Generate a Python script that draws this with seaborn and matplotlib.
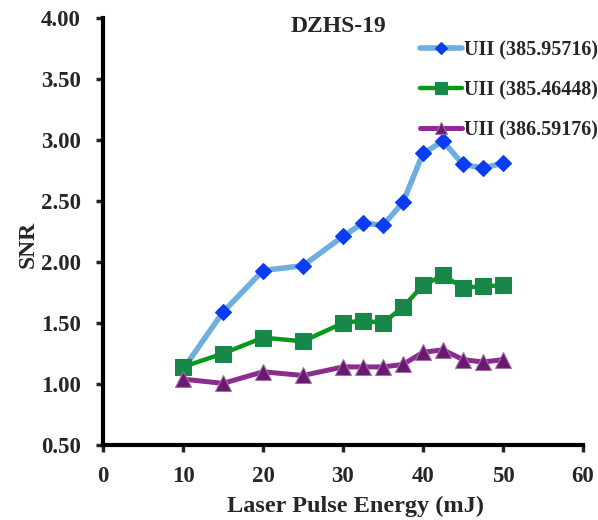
import matplotlib
matplotlib.use("Agg")
import matplotlib.pyplot as plt
import seaborn as sns
import pandas as pd

energy = [10, 15, 20, 25, 30, 32.5, 35, 37.5, 40, 42.5, 45, 47.5, 50]
snr_385_95716 = [1.12, 1.59, 1.93, 1.97, 2.21, 2.32, 2.30, 2.49, 2.89, 2.99, 2.80, 2.77, 2.81]
snr_385_46448 = [1.14, 1.25, 1.38, 1.35, 1.50, 1.52, 1.50, 1.63, 1.81, 1.89, 1.79, 1.80, 1.81]
snr_386_59176 = [1.04, 1.005, 1.10, 1.07, 1.14, 1.14, 1.14, 1.16, 1.26, 1.28, 1.20, 1.18, 1.20]
labels = ["UII (385.95716)", "UII (385.46448)", "UII (386.59176)"]
x_ticks = [0, 10, 20, 30, 40, 50, 60]
y_ticks = [0.5, 1.0, 1.5, 2.0, 2.5, 3.0, 3.5, 4.0]

sns.set_style("white")
plt.rcParams["font.family"] = ["Liberation Serif", "DejaVu Serif"]
plt.rcParams["font.weight"] = "bold"

W, H = 598, 520
fig = plt.figure(figsize=(W / 100, H / 100), dpi=100)
ax = fig.add_axes([103 / W, 1 - 445 / H, 480 / W, 427 / H])

styles = [
    dict(color="#70aee0", marker="D", mfc="#0a3cf0", mec="#0a3cf0", ms=8, lw=4.0),
    dict(color="#0a9a1a", marker="s", mfc="#17884a", mec="#17884a", ms=11, lw=3.2),
    dict(color="#8e2b91", marker="^", mfc="#6a1a6e", mec="#a070a8", ms=11, lw=3.6),
]
for vals, lab, st in zip([snr_385_95716, snr_385_46448, snr_386_59176], labels, styles):
    df = pd.DataFrame({"x": energy, "y": vals})
    sns.lineplot(data=df, x="x", y="y", ax=ax, color=st["color"], lw=st["lw"],
                 marker=st["marker"], markersize=st["ms"],
                 markerfacecolor=st["mfc"], markeredgecolor=st["mec"],
                 markeredgewidth=0.8, label=lab)

ax.set_xlim(0, 60)
ax.set_ylim(0.5, 4.0)
ax.set_xticks(x_ticks)
ax.set_yticks(y_ticks)
ax.set_xticklabels([str(v) for v in x_ticks], fontsize=16.5, fontweight="bold")
ax.set_yticklabels([f"{v:.2f}" for v in y_ticks], fontsize=16.5, fontweight="bold")
ax.tick_params(axis="y", direction="out", length=5, width=2.5, pad=11, left=True)
ax.tick_params(axis="x", direction="out", length=5, width=2.5, pad=10, bottom=True)
for s in ["top", "right"]:
    ax.spines[s].set_visible(False)
for s in ["left", "bottom"]:
    ax.spines[s].set_linewidth(3.0)
    ax.spines[s].set_color("black")

ax.set_xlabel("Laser Pulse Energy (mJ)", fontsize=17.5, fontweight="bold")
ax.set_ylabel("SNR", fontsize=17, fontweight="bold")
ax.xaxis.set_label_coords(0.527, -0.12)
ax.yaxis.set_label_coords(-0.135, 0.47)
ax.text((338 - 103) / 480, 1 + 2 / 427, "DZHS-19", transform=ax.transAxes,
        fontsize=17, fontweight="bold", ha="center", va="top")

leg = ax.legend(loc="upper left", bbox_to_anchor=(412 / W, 1 - 32 / H),
                bbox_transform=fig.transFigure, borderaxespad=0, frameon=False,
                handlelength=2.1, handletextpad=0.1, labelspacing=1.0,
                markerscale=0.8, prop={"size": 14.5, "weight": "bold"})

fig.savefig("out.png", dpi=100)
